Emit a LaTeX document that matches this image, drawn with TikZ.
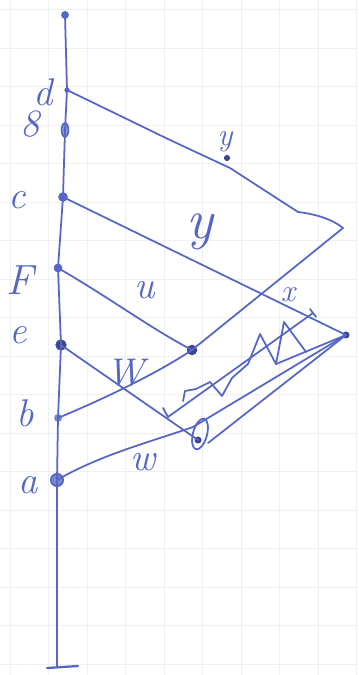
\documentclass[tikz,border=0pt]{standalone}
\usepackage{tikz}
\usetikzlibrary{shapes.geometric, calc}
\definecolor{inkblue}{HTML}{5566C4}
\definecolor{gridgrey}{HTML}{EDEFF3}

\tikzset{
  ink/.style={draw=inkblue, line width=1pt, line cap=round, line join=round},
  dot/.style={circle, fill=inkblue, inner sep=0pt, minimum size=#1},
  dot/.default=4.5pt,
  ovaldot/.style={ellipse, draw=inkblue, fill=inkblue!70, line width=0.9pt, inner sep=0pt, minimum width=4pt, minimum height=8pt},
  knotloop/.style={ellipse, draw=inkblue, line width=1pt, inner sep=0pt, minimum width=8pt, minimum height=18pt},
  lbl/.style={text=inkblue, font=\fontsize{22}{24}\selectfont\itshape},
}

\begin{document}
\begin{tikzpicture}[x=0.02cm, y=-0.02cm]
    \useasboundingbox (0,0) rectangle (358,675);

    % Paper grid
    \foreach \gx in {10,48.5,...,358} \draw[gridgrey, line width=0.5pt] (\gx,0) -- (\gx,675);
    \foreach \gy in {9.5,48,...,675} \draw[gridgrey, line width=0.5pt] (0,\gy) -- (358,\gy);

    % Points on the axis
    \node[dot] (top) at (65,15) {};
    \node[dot=3pt] (pd) at (67,90) {};
    \node[ovaldot] (pg) at (65,130) {};
    \node[dot=5.5pt] (pc) at (63,197) {};
    \node[dot=5pt] (pF) at (58,268) {};
    \node[dot=6pt, draw=inkblue!80!black, fill=inkblue!70!black] (pe) at (61,345) {};
    \node[dot=4.5pt, fill=inkblue!80] (pb) at (58,418) {};
    \node[dot=7pt, draw=inkblue, line width=1pt, fill=inkblue!80] (pa) at (57,480) {};
    \coordinate (bot) at (57,667);
    \coordinate (botl) at (47,668);
    \coordinate (botr) at (78,666);

    % Points on the right
    \node[dot=6pt, fill=inkblue!70!black] (mid) at (192,350) {};
    \node[knotloop, rotate=-15] (knot) at (200,434) {};
    \node[dot=4pt, fill=inkblue!70!black] (knotc) at (198,440) {};
    \coordinate (tipA) at (343,228);
    \node[dot=4pt, fill=inkblue!70!black] (tipB) at (346,335) {};
    \node[dot=3.5pt, fill=inkblue!70!black] (ydot) at (227,158) {};

    % Axis
    \draw[ink] (top.center) -- (pd.center) -- (pg.center) -- (pc.center) -- (pF.center)
        -- (pe.center) -- (pb.center) -- (pa.center) -- (bot);
    \draw[ink, line width=1.3pt] (botl) -- (botr);

    % Lines
    \draw[ink] (pd.center) -- (170,140) -- (230,168) -- (298,212) .. controls (315,214) and (332,219) .. (tipA);
    \draw[ink] (tipA) -- (mid.center) .. controls (165,368) and (120,392) .. (pb.center);
    \draw[ink] (pF.center) .. controls (110,298) and (150,328) .. (mid.center);
    \draw[ink] (pc.center) -- (tipB.center);
    \draw[ink] (pe.center) -- (knotc.center);
    \draw[ink] (pa.center) .. controls (100,455) and (150,442) .. (193,427) -- (tipB.center);
    \draw[ink] (208,443) -- (tipB.center);
    \draw[ink] (163,408) -- (168,417) -- (313,313);
    \draw[ink] (310,309) -- (316,317);
    \draw[ink] (183,401) -- (185,391) -- (196,389) -- (210,382) -- (222,396) -- (232,378)
        -- (248,364) -- (260,334) -- (276,364) -- (284,322) -- (306,352);
    \draw[ink] (276,364) -- (tipB.center);

    % Labels
    \node[lbl] (ld) at (43,92) {d};
    \node[lbl] (lg) at (30,124) {8};
    \node[lbl] (lc) at (17,200) {c};
    \node[lbl, font=\fontsize{24}{26}\selectfont\itshape] (lF) at (20,280) {F};
    \node[lbl] (le) at (18,335) {e};
    \node[lbl] (lb) at (25,413) {b};
    \node[lbl] (la) at (28,485) {a};
    \node[lbl, font=\fontsize{18}{20}\selectfont\itshape] (ly) at (225,142) {y};
    \node[lbl, font=\fontsize{32}{34}\selectfont\itshape] (lyy) at (200,232) {y};
    \node[lbl] (lu) at (145,290) {u};
    \node[lbl, font=\fontsize{18}{20}\selectfont\itshape] (lx) at (288,295) {x};
    \node[lbl] (lW) at (125,373) {W};
    \node[lbl] (lw) at (143,462) {w};
\end{tikzpicture}
\end{document}
